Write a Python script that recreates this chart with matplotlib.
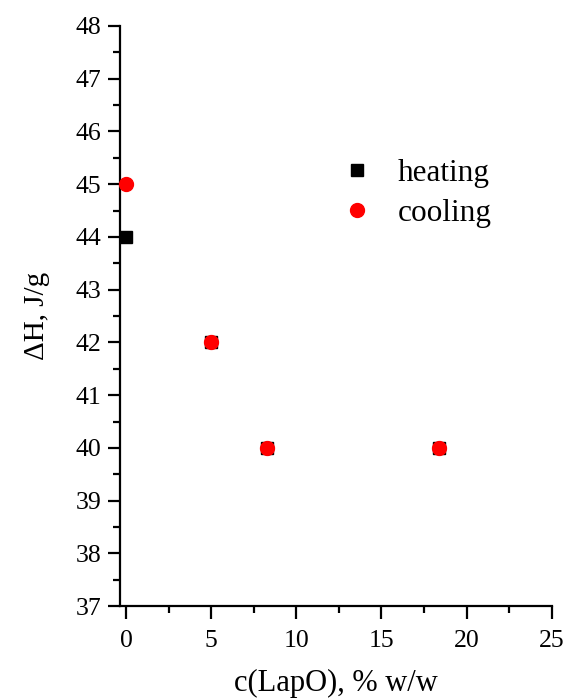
import matplotlib.pyplot as plt
from matplotlib.ticker import MultipleLocator

# enthalpy vs LapO content
conc_heat = [0, 5, 8.25, 18.4]
dH_heat = [44, 42, 40, 40]
conc_cool = [0, 5, 8.25, 18.4]
dH_cool = [45, 42, 40, 40]

plt.rcParams['font.family'] = ['Liberation Serif', 'DejaVu Serif']

fig = plt.figure(figsize=(5.66, 7.0), dpi=100)
ax = fig.add_axes([0.212, 0.134, 0.763, 0.829])

ax.plot(conc_heat, dH_heat, 's', color='black', ms=8, label='heating', clip_on=False, zorder=3)
ax.plot(conc_cool, dH_cool, 'o', color='red', ms=10, label='cooling', clip_on=False, zorder=4)

ax.set_xlim(-0.35, 25)
ax.set_ylim(37, 48)
ax.xaxis.set_major_locator(MultipleLocator(5))
ax.xaxis.set_minor_locator(MultipleLocator(2.5))
ax.yaxis.set_major_locator(MultipleLocator(1))
ax.yaxis.set_minor_locator(MultipleLocator(0.5))

for s in ['top', 'right']:
    ax.spines[s].set_visible(False)
for s in ['left', 'bottom']:
    ax.spines[s].set_linewidth(1.6)

ax.tick_params(which='major', direction='out', length=9, width=1.6, labelsize=18.5)
ax.tick_params(which='minor', direction='out', length=5, width=1.6)
ax.tick_params(axis='y', which='major', pad=4.5)
ax.tick_params(axis='x', which='major', pad=8)

ax.set_xlabel('c(LapO), % w/w', fontsize=22, labelpad=12)
ax.set_ylabel('ΔH, J/g', fontsize=21, labelpad=18)

ax.legend(loc='upper left', bbox_to_anchor=(0.477, 0.798), frameon=False, fontsize=22.5,
          handletextpad=0.8, labelspacing=0.36, handlelength=1.0, borderpad=0)

fig.savefig('out.png', dpi=100)
